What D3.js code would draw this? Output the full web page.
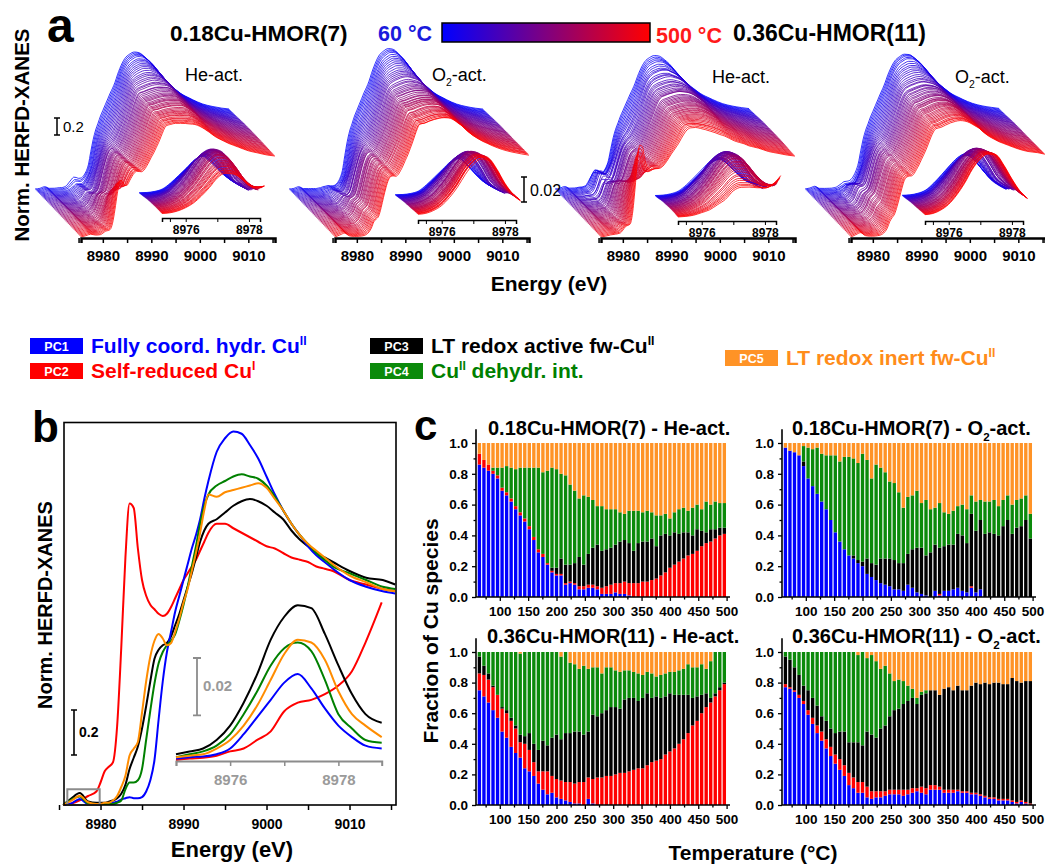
<!DOCTYPE html>
<html>
<head>
<meta charset="utf-8">
<title>Cu-HMOR HERFD-XANES</title>
<script src="https://cdn.jsdelivr.net/npm/d3@7"></script>
<style>
  body { margin: 0; background: #fff; }
  svg { font-family: "Liberation Sans", Arial, sans-serif; }
  .bold { font-weight: bold; }
</style>
</head>
<body>
<svg id="fig" width="1045" height="864"></svg>
<script>
// bar temperatures (°C), panel c
var temps = [64,72,80,88,96,104,112,120,128,136,144,152,160,168,176,184,192,200,208,216,224,232,240,248,256,264,272,280,288,296,304,312,320,328,336,344,352,360,368,376,384,392,400,408,416,424,432,440,448,456,464,472,480,488,496];

// fractions, 0.18Cu-HMOR(7) He-act.
var he7_pc1 = [.86,.84,.82,.80,.77,.69,.66,.62,.57,.53,.49,.44,.37,.29,.26,.21,.16,.14,.14,.08,.09,.08,.05,.05,.06,.06,.05,.02,.02,.02,.03,.02,.02,.01,0,0,0,0,0,0,0,0,0,0,0,0,0,0,0,0,0,0,0,0,0];
var he7_pc2 = [.07,.05,.04,.02,.02,.02,.02,.02,.02,.02,.02,.02,.02,.02,.02,.01,.01,.01,.01,.01,.01,.01,.02,.02,.02,.02,.02,.04,.05,.06,.06,.07,.08,.08,.09,.09,.10,.10,.11,.12,.14,.16,.19,.21,.23,.25,.27,.28,.30,.33,.35,.36,.38,.40,.41];
var he7_pc3 = [0,0,0,0,0,0,0,0,0,0,0,0,0,0,0,0,.02,.04,.10,.12,.11,.13,.19,.14,.20,.24,.27,.24,.24,.24,.25,.27,.27,.26,.21,.26,.26,.26,.27,.21,.26,.25,.21,.21,.18,.17,.15,.12,.14,.10,.07,.08,.06,.05,.04];
var he7_pc4 = [0,0,0,.02,.05,.13,.17,.20,.24,.29,.33,.38,.45,.53,.53,.60,.65,.64,.55,.58,.52,.47,.38,.45,.37,.31,.25,.29,.26,.25,.23,.19,.17,.21,.26,.21,.19,.20,.17,.20,.13,.13,.11,.13,.16,.16,.14,.18,.16,.14,.20,.16,.18,.16,.16];
var he7_pc5 = [.07,.11,.14,.16,.16,.16,.15,.16,.17,.16,.16,.16,.16,.16,.19,.18,.16,.17,.20,.21,.27,.31,.36,.34,.35,.37,.41,.41,.43,.43,.43,.45,.46,.44,.44,.44,.45,.44,.45,.47,.47,.46,.49,.45,.43,.42,.44,.42,.40,.43,.38,.40,.38,.39,.39];

// fractions, 0.18Cu-HMOR(7) O2-act.
var o7_pc1 = [.97,.95,.94,.92,.85,.77,.72,.67,.62,.57,.50,.42,.36,.31,.27,.25,.22,.20,.15,.13,.11,.09,.08,.07,.05,.05,.04,.08,.06,.03,.02,.01,0,.04,.01,.04,.04,.05,.06,.04,.03,.06,.03,.05,0,0,0,0,0,0,0,0,0,0,0];
var o7_pc2 = [0,0,0,0,0,0,0,0,0,0,0,0,0,0,0,0,0,0,0,0,0,0,0,0,0,0,0,0,0,0,0,0,0,0,.01,0,0,0,0,0,0,.01,0,0,0,0,0,0,0,0,0,0,0,0,0];
var o7_pc3 = [0,0,0,0,.03,0,0,0,0,0,0,0,0,0,0,.02,.02,.03,.10,.09,.10,.16,.17,.18,.19,.17,.18,.20,.25,.29,.30,.26,.29,.30,.30,.29,.30,.29,.35,.36,.32,.47,.40,.45,.41,.42,.41,.40,.46,.50,.41,.45,.46,.50,.38];
var o7_pc4 = [0,0,0,0,.10,.20,.24,.30,.31,.35,.42,.50,.52,.60,.64,.63,.63,.70,.64,.55,.65,.59,.56,.50,.50,.46,.36,.37,.35,.37,.29,.36,.28,.24,.29,.22,.20,.22,.18,.20,.22,.12,.19,.13,.21,.20,.22,.19,.17,.16,.19,.18,.18,.16,.16];
var o7_pc5 = [.03,.05,.06,.08,.02,.03,.04,.03,.07,.08,.08,.08,.12,.09,.09,.10,.13,.07,.11,.23,.14,.16,.19,.25,.26,.32,.42,.35,.34,.31,.39,.37,.43,.42,.39,.45,.46,.44,.41,.40,.43,.34,.38,.37,.38,.38,.37,.41,.37,.34,.40,.37,.36,.34,.46];

// fractions, 0.36Cu-HMOR(11) He-act.
var he11_pc1 = [.75,.71,.67,.62,.57,.48,.44,.38,.34,.31,.24,.22,.19,.14,.10,.07,.08,.05,.04,.03,.02,.01,.01,0,.04,.01,0,0,0,0,0,0,0,0,0,0,0,0,0,0,0,0,0,0,0,0,0,0,0,0,0,0,0,0,0];
var he11_pc2 = [.11,.14,.15,.15,.15,.15,.16,.17,.16,.10,.16,.14,.09,.08,.12,.15,.11,.12,.12,.12,.13,.13,.14,.15,.14,.16,.18,.18,.19,.19,.20,.21,.21,.22,.23,.24,.24,.26,.28,.29,.30,.33,.35,.37,.40,.43,.47,.52,.55,.60,.64,.67,.71,.75,.79];
var he11_pc3 = [.11,.06,.04,.01,0,.01,.02,.02,.02,.05,.05,.11,.12,.14,.20,.17,.25,.29,.27,.32,.32,.34,.33,.31,.30,.42,.40,.42,.43,.45,.44,.42,.48,.48,.47,.44,.46,.47,.42,.42,.40,.38,.38,.35,.32,.29,.25,.18,.16,.12,.09,.03,.02,.02,.01];
var he11_pc4 = [.03,.09,.14,.22,.28,.36,.38,.43,.48,.53,.55,.53,.60,.64,.58,.61,.56,.54,.54,.53,.46,.44,.41,.45,.41,.31,.32,.26,.28,.26,.24,.24,.19,.18,.17,.18,.15,.14,.16,.13,.15,.15,.14,.15,.16,.17,.20,.20,.19,.20,.16,.24,.27,.23,.20];
var he11_pc5 = [0,0,0,0,0,0,0,0,0,.01,0,0,0,0,0,0,0,0,.03,0,.07,.08,.11,.09,.11,.10,.10,.14,.10,.10,.12,.13,.12,.12,.13,.14,.15,.13,.14,.16,.15,.14,.13,.13,.12,.11,.08,.10,.10,.08,.11,.06,0,0,0];

// fractions, 0.36Cu-HMOR(11) O2-act.
var o11_pc1 = [.77,.76,.74,.70,.66,.59,.53,.47,.42,.37,.32,.27,.23,.19,.13,.11,.08,.08,.05,.04,.05,.05,.06,.07,.07,.07,.06,.07,.08,.09,.08,.07,.10,.10,.10,.08,.08,.08,.09,.08,.08,.07,.07,.06,.05,.04,.04,.03,.03,.03,.02,.01,.02,.01,0];
var o11_pc2 = [.02,.01,.01,.02,.02,.03,.04,.05,.06,.06,.06,.06,.07,.07,.08,.07,.07,.07,.07,.05,.04,.04,.03,.03,.03,.03,.04,.03,.03,.02,.04,.04,.03,.03,.02,.02,.02,.02,.01,.01,.01,.01,.01,.01,.01,.01,.01,.01,.01,.01,.01,.01,.01,.01,.01];
var o11_pc3 = [.18,.18,.15,.13,.10,.13,.13,.13,.10,.12,.12,.14,.18,.22,.20,.23,.26,.24,.36,.37,.35,.41,.43,.48,.52,.53,.56,.58,.59,.55,.60,.62,.62,.62,.60,.66,.67,.65,.68,.66,.66,.70,.72,.72,.74,.74,.75,.76,.75,.75,.80,.79,.77,.79,.80];
var o11_pc4 = [.03,.05,.10,.15,.22,.25,.30,.35,.42,.45,.50,.53,.52,.52,.59,.59,.57,.61,.48,.52,.50,.39,.39,.28,.19,.19,.15,.10,.06,.04,.02,.02,0,0,0,0,0,0,0,0,0,0,0,0,0,0,0,0,0,0,0,0,0,0,0];
var o11_pc5 = [0,0,0,0,0,0,0,0,0,0,0,0,0,0,0,0,.02,0,.04,.02,.06,.11,.09,.14,.19,.18,.19,.22,.24,.30,.26,.25,.25,.25,.28,.24,.23,.25,.22,.25,.25,.22,.20,.21,.20,.21,.20,.20,.21,.21,.17,.19,.20,.19,.19];

// component spectra, panel b (energy in eV, normalised intensity)
var energy = [8975.5,8976.5,8977.5,8978.5,8979.5,8980,8980.5,8981,8981.5,8982,8982.5,8983,8983.5,8984,8984.5,8985,8985.5,8986,8986.5,8987,8987.5,8988,8988.5,8989,8989.5,8990,8990.5,8991,8991.5,8992,8992.5,8993,8994,8995,8996,8997,8998,8999,9000,9001,9002,9003,9004,9005,9006,9007,9008,9010,9012,9014,9015.5];
var pc1Spec = [0,.007,.027,.005,.005,.005,.005,.005,.01,.015,.025,.03,.035,.03,.03,.035,.06,.11,.2,.38,.55,.68,.77,.86,.93,1.0,1.07,1.14,1.2,1.27,1.36,1.44,1.57,1.63,1.66,1.65,1.6,1.54,1.46,1.38,1.31,1.25,1.2,1.15,1.11,1.08,1.05,1.0,.97,.95,.94];
var pc2Spec = [0,.007,.021,.04,.06,.10,.15,.17,.19,.35,.7,1.1,1.34,1.32,1.14,1.0,.93,.89,.87,.85,.84,.85,.88,.92,.96,1.0,1.03,1.06,1.09,1.13,1.17,1.21,1.25,1.25,1.23,1.21,1.19,1.17,1.15,1.14,1.12,1.1,1.09,1.08,1.06,1.05,1.04,1.0,.98,.96,.95];
var pc3Spec = [0,.03,.053,.016,.01,.01,.01,.015,.02,.03,.05,.09,.16,.21,.26,.34,.44,.55,.65,.69,.71,.72,.75,.8,.85,.91,.97,1.03,1.1,1.17,1.22,1.25,1.27,1.3,1.33,1.35,1.36,1.35,1.33,1.3,1.27,1.22,1.18,1.15,1.12,1.1,1.08,1.04,1.01,1.0,.98];
var pc4Spec = [0,.024,.038,.007,.005,.005,.005,.005,.005,.01,.02,.07,.1,.1,.11,.16,.29,.42,.54,.63,.68,.71,.73,.76,.82,.89,.97,1.06,1.15,1.25,1.33,1.38,1.42,1.44,1.46,1.47,1.46,1.45,1.42,1.37,1.31,1.25,1.2,1.16,1.12,1.09,1.06,1.03,1.0,.97,.96];
var pc5Spec = [0,.019,.041,.012,.005,.005,.01,.01,.02,.04,.08,.13,.22,.25,.28,.41,.55,.66,.73,.76,.74,.71,.72,.77,.83,.9,.96,1.04,1.12,1.21,1.31,1.38,1.37,1.39,1.4,1.41,1.42,1.43,1.41,1.36,1.31,1.25,1.2,1.16,1.13,1.1,1.07,1.02,.99,.96,.95];

// pre-edge region (inset)
var preEnergy = [8975,8975.25,8975.5,8975.75,8976,8976.25,8976.5,8976.75,8977,8977.25,8977.5,8977.75,8978,8978.25,8978.5,8978.8];
var pc1Pre = [.0005,.001,.0012,.002,.004,.009,.015,.021,.027,.030,.025,.018,.012,.008,.005,.004];
var pc2Pre = [0,.0005,.0008,.0015,.003,.004,.007,.010,.017,.020,.021,.023,.026,.031,.041,.055];
var pc3Pre = [.002,.003,.004,.007,.012,.020,.030,.042,.050,.054,.053,.044,.033,.023,.016,.013];
var pc4Pre = [.001,.002,.003,.005,.009,.016,.024,.033,.039,.041,.038,.028,.016,.011,.007,.006];
var pc5Pre = [.001,.0015,.002,.004,.007,.012,.019,.028,.037,.042,.041,.035,.024,.016,.012,.008];

var pcNames = ["PC1", "PC2", "PC3", "PC4", "PC5"];
var barColors = ["#0000ff", "#ff0000", "#000000", "#0b8a0b", "#ff9326"];
var lineColors = ["#0000ff", "#ff0000", "#000000", "#008000", "#ff8c00"];

var specs = [pc1Spec, pc2Spec, pc3Spec, pc4Spec, pc5Spec];
var preSpecs = [pc1Pre, pc2Pre, pc3Pre, pc4Pre, pc5Pre];
var he7 = [he7_pc1, he7_pc2, he7_pc3, he7_pc4, he7_pc5];
var o7 = [o7_pc1, o7_pc2, o7_pc3, o7_pc4, o7_pc5];
var he11 = [he11_pc1, he11_pc2, he11_pc3, he11_pc4, he11_pc5];
var o11 = [o11_pc1, o11_pc2, o11_pc3, o11_pc4, o11_pc5];

var svg = d3.select("#fig");
var tempColor = d3.interpolateRgb("#0000ff", "#ff0000");

// text with sub/superscript parts: [[text, "sub"|"sup"|undefined], ...]
function richText(sel, x, y, parts, size) {
  var t = sel.append("text").attr("x", x).attr("y", y).attr("font-size", size);
  var cur = 0;
  parts.forEach(function(p) {
    var target = p[1] === "sub" ? size * 0.28 : p[1] === "sup" ? -size * 0.38 : 0;
    var s = t.append("tspan").text(p[0]).attr("dy", target - cur);
    if (p[1]) s.attr("font-size", size * 0.58);
    cur = target;
  });
  return t;
}

function mix(F, S, i, j) {
  var v = 0;
  for (var k = 0; k < 5; k++) v += F[k][i] * S[k][j];
  return v;
}

// ---------------- panel a ----------------
var ga = svg.append("g");
var aPanels = [
  {ox: 0,   oi: 0,   iy: 218, F: he7,  lab: [["He-act."]],             lx: 185, ly: 81},
  {ox: 254, oi: 256, iy: 220, F: o7,   lab: [["O"], ["2", "sub"], ["-act."]], lx: 432, ly: 81},
  {ox: 520, oi: 516, iy: 221, F: he11, lab: [["He-act."]],             lx: 712, ly: 83},
  {ox: 770, oi: 763, iy: 221, F: o11,  lab: [["O"], ["2", "sub"], ["-act."]], lx: 955, ly: 83}
];
var nT = temps.length;

aPanels.forEach(function(p) {
  var g = ga.append("g");
  var x = d3.scaleLinear().domain([8975.5, 9015.5]).range([81 + p.ox, 275 + p.ox]);
  var y = d3.scaleLinear().domain([0, 1]).range([237, 152]);
  var line = d3.line().x(function(d) { return x(d[0]); }).y(function(d) { return y(d[1]); })
    .curve(d3.curveMonotoneX);

  // inset scales
  var xi = d3.scaleLinear().domain([8975.25, 8978.35]).range([162 + p.oi, 260 + p.oi]);
  var yi = d3.scaleLinear().domain([0, 0.02]).range([p.iy - 3, p.iy - 28]);
  var lineI = d3.line().x(function(d) { return xi(d[0]); }).y(function(d) { return yi(d[1]); })
    .curve(d3.curveMonotoneX);

  for (var i = 0; i < nT; i++) {
    var k = (nT - 1 - i) / (nT - 1);
    var col = tempColor(i / (nT - 1));
    var pts = energy.map(function(e, j) { return [e, mix(p.F, specs, i, j)]; });
    g.append("path")
      .attr("d", line(pts))
      .attr("transform", "translate(" + (-46 * k) + "," + (-48 * k) + ")")
      .attr("fill", "none").attr("stroke", col).attr("stroke-width", 0.8);

    var ptsI = [];
    preEnergy.forEach(function(e, j) {
      if (e >= 8975.25 && e <= 8978.5) ptsI.push([e, mix(p.F, preSpecs, i, j)]);
    });
    g.append("path")
      .attr("d", lineI(ptsI))
      .attr("transform", "translate(" + (-23 * k) + "," + (-21 * k) + ")")
      .attr("fill", "none").attr("stroke", col).attr("stroke-width", 0.8);
  }

  var ax = g.append("g").attr("transform", "translate(0,238)")
    .call(d3.axisBottom(x).tickValues(d3.range(8975, 9016, 5)).tickSize(5).tickPadding(7)
      .tickFormat(function(d) { return d % 10 === 0 ? d : ""; }));
  ax.select(".domain").attr("stroke-width", 2.5);
  ax.selectAll(".tick line").attr("stroke-width", 1.5);
  ax.selectAll("text").attr("font-size", 15).attr("font-weight", "bold")
    .attr("font-family", "Liberation Sans, Arial, sans-serif");

  var axi = g.append("g").attr("transform", "translate(0," + p.iy + ")")
    .call(d3.axisBottom(xi).tickValues([8975.5, 8976, 8977, 8978]).tickSize(4).tickPadding(3)
      .tickFormat(function(d) { return d % 2 === 0 ? d : ""; }));
  axi.select(".domain").attr("stroke-width", 1.5);
  axi.selectAll("text").attr("font-size", 12).attr("font-weight", "bold")
    .attr("font-family", "Liberation Sans, Arial, sans-serif");

  richText(g, p.lx, p.ly, p.lab, 18);
});

// scale bars, panel a
(function() {
  var h = 0.2 * 85, x0 = 57, y0 = 118;
  ga.append("path").attr("d", "M" + (x0 - 3) + "," + y0 + "h6M" + x0 + "," + y0 + "v" + h + "M" + (x0 - 3) + "," + (y0 + h) + "h6")
    .attr("stroke", "#000").attr("stroke-width", 1.5).attr("fill", "none");
  ga.append("text").attr("x", 63).attr("y", 132).attr("font-size", 15).text("0.2");
  var hi = 0.02 * 1250, x1 = 524, y1 = 177;
  ga.append("path").attr("d", "M" + (x1 - 3) + "," + y1 + "h6M" + x1 + "," + y1 + "v" + hi + "M" + (x1 - 3) + "," + (y1 + hi) + "h6")
    .attr("stroke", "#000").attr("stroke-width", 1.5).attr("fill", "none");
  ga.append("text").attr("x", 530).attr("y", 196).attr("font-size", 16).text("0.02");
})();

// header, panel a
ga.append("text").attr("class", "bold").attr("x", 47).attr("y", 42).attr("font-size", 48).text("a");
ga.append("text").attr("class", "bold").attr("x", 170).attr("y", 41).attr("font-size", 22.5).text("0.18Cu-HMOR(7)");
ga.append("text").attr("class", "bold").attr("x", 378).attr("y", 41).attr("font-size", 21.5).attr("fill", "#1a1adc").text("60 °C");
ga.append("text").attr("class", "bold").attr("x", 656).attr("y", 43).attr("font-size", 21.5).attr("fill", "#ff1a1a").text("500 °C");
ga.append("text").attr("class", "bold").attr("x", 733).attr("y", 41).attr("font-size", 23).text("0.36Cu-HMOR(11)");

var grad = svg.append("defs").append("linearGradient").attr("id", "tgrad");
d3.range(0, 1.01, 0.1).forEach(function(t) {
  grad.append("stop").attr("offset", t).attr("stop-color", tempColor(t));
});
ga.append("rect").attr("x", 442).attr("y", 23).attr("width", 208).attr("height", 19)
  .attr("fill", "url(#tgrad)").attr("stroke", "#000").attr("stroke-width", 1.5);

ga.append("text").attr("class", "bold").attr("font-size", 20.5).attr("text-anchor", "middle")
  .attr("transform", "translate(29,135) rotate(-90)").text("Norm. HERFD-XANES");
ga.append("text").attr("class", "bold").attr("font-size", 21).attr("text-anchor", "middle")
  .attr("x", 549).attr("y", 291).text("Energy (eV)");

// ---------------- legend ----------------
var legendItems = [
  {x: 30,  y: 338, parts: [["Fully coord. hydr. Cu"], ["II", "sup"]], color: "#0000ff"},
  {x: 30,  y: 363, parts: [["Self-reduced Cu"], ["I", "sup"]], color: "#ff0000"},
  {x: 370, y: 338, parts: [["LT redox active fw-Cu"], ["II", "sup"]], color: "#000000"},
  {x: 370, y: 363, parts: [["Cu"], ["II", "sup"], [" dehydr. int."]], color: "#008000"},
  {x: 725, y: 350, parts: [["LT redox inert fw-Cu"], ["II", "sup"]], color: "#ff8c1a"}
];
var gl = svg.append("g");
legendItems.forEach(function(d, i) {
  gl.append("rect").attr("x", d.x).attr("y", d.y).attr("width", 53).attr("height", 16).attr("fill", barColors[i]);
  gl.append("text").attr("x", d.x + 26.5).attr("y", d.y + 12.5).attr("text-anchor", "middle")
    .attr("font-size", 12.5).attr("font-weight", "bold").attr("fill", "#fff").text(pcNames[i]);
  richText(gl, d.x + 61, d.y + 15, d.parts, 21).attr("font-weight", "bold").attr("fill", d.color);
});

// ---------------- panel b ----------------
var gb = svg.append("g");
var xb = d3.scaleLinear().domain([8975.6, 9015.6]).range([64, 396]);
var yb = d3.scaleLinear().domain([0, 1.7]).range([805, 422.5]);
var lineB = d3.line().x(function(d) { return xb(d[0]); }).y(function(d) { return yb(d[1]); })
  .curve(d3.curveMonotoneX);
var drawOrder = [1, 2, 0, 3, 4];
drawOrder.forEach(function(k) {
  gb.append("path").attr("d", lineB(energy.map(function(e, j) { return [e, specs[k][j]]; })))
    .attr("fill", "none").attr("stroke", lineColors[k]).attr("stroke-width", 2);
});
// inset of panel b
var xbi = d3.scaleLinear().domain([8975, 8978.8]).range([176, 381.7]);
var ybi = d3.scaleLinear().domain([0, 0.02]).range([760, 702.7]);
var lineBi = d3.line().x(function(d) { return xbi(d[0]); }).y(function(d) { return ybi(d[1]); })
  .curve(d3.curveMonotoneX);
[1, 0, 3, 4, 2].forEach(function(k) {
  gb.append("path").attr("d", lineBi(preEnergy.map(function(e, j) { return [e, preSpecs[k][j]]; })))
    .attr("fill", "none").attr("stroke", lineColors[k]).attr("stroke-width", 2);
});
var axbi = gb.append("g").attr("transform", "translate(0,761)")
  .call(d3.axisBottom(xbi).tickValues([8975, 8976, 8977, 8978]).tickSize(5).tickPadding(8)
    .tickFormat(function(d) { return d % 2 === 0 ? d : ""; }));
axbi.select(".domain").attr("stroke", "#8c8c8c").attr("stroke-width", 2);
axbi.selectAll(".tick line").attr("stroke", "#8c8c8c").attr("stroke-width", 1.5);
axbi.selectAll("text").attr("fill", "#9a9a9a").attr("font-size", 15).attr("font-weight", "bold")
  .attr("font-family", "Liberation Sans, Arial, sans-serif");

// grey box marking the pre-edge region
gb.append("rect").attr("x", xb(8976)).attr("y", yb(0.07)).attr("width", xb(8979.9) - xb(8976))
  .attr("height", yb(0) - yb(0.07)).attr("fill", "none").attr("stroke", "#8c8c8c").attr("stroke-width", 2);

// frame & axis
gb.append("rect").attr("x", 64).attr("y", 422.5).attr("width", 332).attr("height", 382.5)
  .attr("fill", "none").attr("stroke", "#000").attr("stroke-width", 1.6);
var axb = gb.append("g").attr("transform", "translate(0,805)")
  .call(d3.axisBottom(xb).tickValues([8975, 8980, 8985, 8990, 8995, 9000, 9005, 9010, 9015]).tickSize(5).tickPadding(9)
    .tickFormat(function(d) { return d % 10 === 0 ? d : ""; }));
axb.select(".domain").remove();
axb.selectAll(".tick line").attr("stroke-width", 1.5);
axb.selectAll("text").attr("font-size", 14).attr("font-weight", "bold")
  .attr("font-family", "Liberation Sans, Arial, sans-serif");

// scale bars, panel b
(function() {
  var h = yb(0) - yb(0.2), x0 = 74, y0 = 710;
  gb.append("path").attr("d", "M" + (x0 - 3) + "," + y0 + "h6M" + x0 + "," + y0 + "v" + h + "M" + (x0 - 3) + "," + (y0 + h) + "h6")
    .attr("stroke", "#000").attr("stroke-width", 1.6).attr("fill", "none");
  gb.append("text").attr("class", "bold").attr("x", 79).attr("y", 737).attr("font-size", 14).text("0.2");
  var hi = ybi(0) - ybi(0.02), x1 = 197, y1 = 658;
  gb.append("path").attr("d", "M" + (x1 - 4) + "," + y1 + "h8M" + x1 + "," + y1 + "v" + hi + "M" + (x1 - 4) + "," + (y1 + hi) + "h8")
    .attr("stroke", "#8c8c8c").attr("stroke-width", 1.8).attr("fill", "none");
  gb.append("text").attr("class", "bold").attr("x", 203).attr("y", 691).attr("font-size", 15)
    .attr("fill", "#9a9a9a").text("0.02");
})();

gb.append("text").attr("class", "bold").attr("x", 32).attr("y", 442).attr("font-size", 44).text("b");
gb.append("text").attr("class", "bold").attr("font-size", 20).attr("text-anchor", "middle")
  .attr("transform", "translate(52,605) rotate(-90)").text("Norm. HERFD-XANES");
gb.append("text").attr("class", "bold").attr("font-size", 22).attr("text-anchor", "middle")
  .attr("x", 232).attr("y", 857).text("Energy (eV)");

// ---------------- panel c ----------------
var gc = svg.append("g");
var keys = ["pc1", "pc2", "pc3", "pc4", "pc5"];
var cPanels = [
  {x0: 476, top: 443, bot: 597, F: he7,  title: [["0.18Cu-HMOR(7) - He-act."]], tx: 488, ty: 435},
  {x0: 782, top: 443, bot: 597, F: o7,   title: [["0.18Cu-HMOR(7) - O"], ["2", "sub"], ["-act."]], tx: 792, ty: 435},
  {x0: 476, top: 652, bot: 805, F: he11, title: [["0.36Cu-HMOR(11) - He-act."]], tx: 487, ty: 643},
  {x0: 782, top: 652, bot: 805, F: o11,  title: [["0.36Cu-HMOR(11) - O"], ["2", "sub"], ["-act."]], tx: 792, ty: 643}
];
cPanels.forEach(function(p) {
  var g = gc.append("g");
  var x = d3.scaleLinear().domain([58, 506]).range([p.x0, p.x0 + 254]);
  var y = d3.scaleLinear().domain([0, 1]).range([p.bot, p.top]);
  var rows = temps.map(function(t, i) {
    var r = {t: t};
    keys.forEach(function(k, j) { r[k] = p.F[j][i]; });
    return r;
  });
  var stacked = d3.stack().keys(keys)(rows);
  var bw = (x(66) - x(58)) * 0.74;
  g.selectAll("g.layer").data(stacked).join("g").attr("class", "layer")
    .attr("fill", function(d, i) { return barColors[i]; })
    .selectAll("rect").data(function(d) { return d; }).join("rect")
    .attr("x", function(d) { return x(d.data.t) - bw / 2; })
    .attr("width", bw)
    .attr("y", function(d) { return y(d[1]); })
    .attr("height", function(d) { return Math.max(0, y(d[0]) - y(d[1])); });

  // axes
  var ya = g.append("g").attr("transform", "translate(" + p.x0 + ",0)")
    .call(d3.axisLeft(y).tickValues([0, 0.2, 0.4, 0.6, 0.8, 1]).tickFormat(d3.format(".1f")).tickSize(4).tickPadding(4));
  ya.select(".domain").remove();
  g.append("g").attr("transform", "translate(" + p.x0 + ",0)")
    .call(d3.axisLeft(y).tickValues([0.1, 0.3, 0.5, 0.7, 0.9]).tickFormat("").tickSize(2.5))
    .select(".domain").remove();
  g.append("line").attr("x1", p.x0).attr("x2", p.x0).attr("y1", p.bot).attr("y2", y(1.09))
    .attr("stroke", "#000").attr("stroke-width", 1.6);

  var xa = g.append("g").attr("transform", "translate(0," + p.bot + ")")
    .call(d3.axisBottom(x).tickValues(d3.range(100, 501, 50)).tickSize(4).tickPadding(5));
  xa.select(".domain").remove();
  g.append("g").attr("transform", "translate(0," + p.bot + ")")
    .call(d3.axisBottom(x).tickValues(d3.range(75, 500, 50)).tickFormat("").tickSize(2.5))
    .select(".domain").remove();
  g.append("line").attr("x1", p.x0).attr("x2", p.x0 + 254).attr("y1", p.bot).attr("y2", p.bot)
    .attr("stroke", "#000").attr("stroke-width", 1.6);

  g.selectAll(".tick text").attr("font-size", 13.5).attr("font-weight", "bold")
    .attr("font-family", "Liberation Sans, Arial, sans-serif");
  g.selectAll(".tick line").attr("stroke-width", 1.3);

  richText(g, p.tx, p.ty, p.title, 20).attr("font-weight", "bold");
});
gc.append("text").attr("class", "bold").attr("x", 414).attr("y", 440).attr("font-size", 42).text("c");
gc.append("text").attr("class", "bold").attr("font-size", 21).attr("text-anchor", "middle")
  .attr("transform", "translate(438,631) rotate(-90)").text("Fraction of Cu species");
gc.append("text").attr("class", "bold").attr("font-size", 21).attr("text-anchor", "middle")
  .attr("x", 753).attr("y", 860).text("Temperature  (°C)");
</script>
</body>
</html>
